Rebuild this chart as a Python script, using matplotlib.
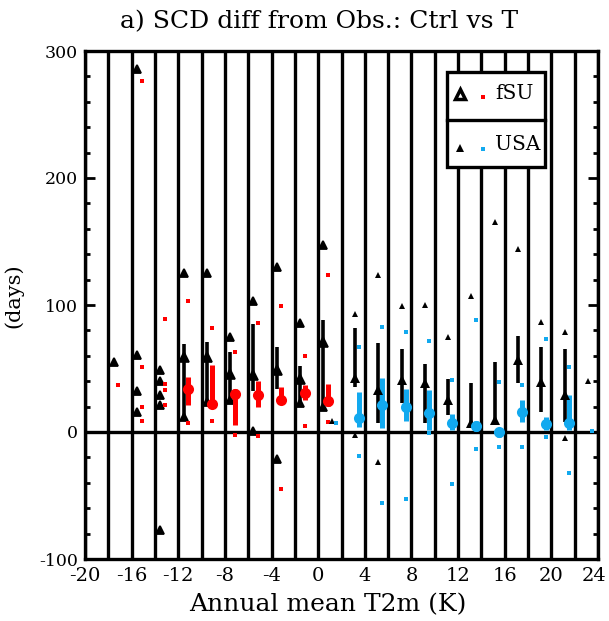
import matplotlib
matplotlib.use("Agg")
import matplotlib.pyplot as plt
import matplotlib.transforms as mtransforms
from matplotlib.patches import Rectangle

plt.rcParams['font.family'] = ['DejaVu Serif']
plt.rcParams['axes.unicode_minus'] = False

# ---------------- data ----------------
# fSU: bins (left edge of 2-K temperature bin)
fsu_pts_bins = [-18, -16, -14, -12, -10, -8, -6, -4, -2, 0]
fsu_ctrl_pts = [[55], [286, 61, 32, 16], [49, 40, 29, 21, -77], [125, 12], [125, 24],
                [75, 25], [103, 1], [130, -21], [86, 23], [147, 20]]
fsu_t_pts = [[37], [276, 51, 20, 9], [89, 38, 33, 21], [103, 7], [82, 9],
             [63, -2], [86, -3], [99, -45], [60, 5], [124, 8]]

fsu_bar_bins = [-12, -10, -8, -6, -4, -2, 0]
fsu_ctrl_lo = [9.5, 25, 24.5, 32, 33.5, 23.5, 20]
fsu_ctrl_med = [59, 59, 46, 45, 49, 42, 71]
fsu_ctrl_hi = [69, 71, 63, 85, 67, 52, 88]
fsu_t_lo = [21, 20.5, 5.5, 20, 22.5, 25, 20.5]
fsu_t_med = [34, 22, 30, 29, 25, 30.5, 24.5]
fsu_t_hi = [43.5, 53, 34, 40, 35.7, 37, 38]

# USA
usa_pts_bins = [0, 2, 4, 6, 8, 10, 12, 14, 16, 18, 20, 22]
usa_ctrl_pts = [[9], [93, -2], [124, -24], [99], [100], [75], [107], [165], [144],
                [87], [79, -5], [40]]
usa_t_pts = [[7], [67, -19], [83, -56], [79, -53], [72, -1], [41, -41], [88, -13],
             [39, -12], [37, -12], [73, -4], [51, -32], [1]]

usa_bar_bins = [2, 4, 6, 8, 10, 12, 14, 16, 18, 20]
usa_ctrl_lo = [35.7, 6.8, 22.6, 6.8, 13.4, 6.8, 8, 38.3, 15.5, 8]
usa_ctrl_med = [42.3, 33, 41, 38.8, 25, 7.3, 9.4, 56.7, 39.6, 29]
usa_ctrl_hi = [81.6, 70, 65.3, 53.3, 41.7, 38.3, 55, 75.6, 67, 65.3]
usa_t_lo = [4.2, 2.9, 9, 1.6, 1.6, 0.5, -4, 8, 1.6, 1.6]
usa_t_med = [10.8, 21.3, 20, 14.7, 6.8, 4.7, 0, 16, 6, 7.3]
usa_t_hi = [31.7, 42.3, 33.6, 33, 13.9, 9, 3, 25, 12, 29]

x_ticks = [-20, -16, -12, -8, -4, 0, 4, 8, 12, 16, 20, 24]
y_ticks = [-100, 0, 100, 200, 300]

RED = '#ff0000'
BLUE = '#12a9ef'

# ---------------- figure ----------------
fig = plt.figure(figsize=(6.09, 6.21), dpi=100)
ax = fig.add_axes([85 / 609, 1 - 559 / 621, 513 / 609, 508 / 621])
ax.set_xlim(-20, 24)
ax.set_ylim(-100, 300)

# vertical grid lines every 2 K
ax.set_xticks(x_ticks)
ax.set_xticks(range(-18, 24, 2), minor=True)
ax.grid(True, which='both', axis='x', color='black', lw=2.4, zorder=1)
ax.axhline(0, color='black', lw=2.4, zorder=2)

# offsets within the bin
o_fc, o_ft = 0.45, 0.85
o_uc, o_ut = 1.15, 1.5

# individual stations
for b, vals in zip(fsu_pts_bins, fsu_ctrl_pts):
    ax.plot([b + o_fc] * len(vals), vals, ls='none', marker='^', ms=5.2, mfc='black',
            mec='black', mew=1.3, zorder=4)
for b, vals in zip(fsu_pts_bins, fsu_t_pts):
    ax.plot([b + o_ft] * len(vals), vals, ls='none', marker='s', ms=3.2, color=RED,
            mew=0, zorder=4)
for b, vals in zip(usa_pts_bins, usa_ctrl_pts):
    ax.plot([b + o_uc] * len(vals), vals, ls='none', marker='^', ms=5, color='black',
            mew=0, zorder=4)
for b, vals in zip(usa_pts_bins, usa_t_pts):
    ax.plot([b + o_ut] * len(vals), vals, ls='none', marker='s', ms=3.2, color=BLUE,
            mew=0, zorder=4)

# bin statistics bars
for b, lo, md, hi in zip(fsu_bar_bins, fsu_ctrl_lo, fsu_ctrl_med, fsu_ctrl_hi):
    ax.plot([b + o_fc, b + o_fc], [lo, hi], color='black', lw=2.6, solid_capstyle='butt', zorder=5)
    ax.plot([b + o_fc], [md], marker='^', ms=6.5, color='black', mew=1.2, zorder=6)
for b, lo, md, hi in zip(fsu_bar_bins, fsu_t_lo, fsu_t_med, fsu_t_hi):
    ax.plot([b + o_ft, b + o_ft], [lo, hi], color=RED, lw=3.6, solid_capstyle='butt', zorder=5)
    ax.plot([b + o_ft], [md], marker='o', ms=8, color=RED, mew=0, zorder=6)
for b, lo, md, hi in zip(usa_bar_bins, usa_ctrl_lo, usa_ctrl_med, usa_ctrl_hi):
    ax.plot([b + o_uc, b + o_uc], [lo, hi], color='black', lw=2.6, solid_capstyle='butt', zorder=5)
    ax.plot([b + o_uc], [md], marker='^', ms=7, color='black', mew=0, zorder=6)
for b, lo, md, hi in zip(usa_bar_bins, usa_t_lo, usa_t_med, usa_t_hi):
    ax.plot([b + o_ut, b + o_ut], [lo, hi], color=BLUE, lw=3.6, solid_capstyle='butt', zorder=5)
    ax.plot([b + o_ut], [md], marker='o', ms=8, color=BLUE, mew=0, zorder=6)

# axes styling
for s in ax.spines.values():
    s.set_linewidth(2.4)
    s.set_zorder(7)
ax.set_yticks(y_ticks)
ax.set_yticks(range(-80, 300, 20), minor=True)
ax.tick_params(axis='y', which='major', direction='in', length=7, width=2, left=True, right=True,
               labelsize=12.5, pad=5)
ax.tick_params(axis='y', which='minor', direction='in', length=3.5, width=2, left=True, right=True)
ax.tick_params(axis='x', which='both', length=0, labelsize=14, pad=6)
ax.set_xticklabels([str(v) for v in x_ticks])
ax.set_yticklabels([str(v) for v in y_ticks])
# nudge the last x label so it stays inside the figure
last = ax.get_xticklabels()[-1]
last.set_transform(last.get_transform() +
                   mtransforms.ScaledTranslation(-4 / 100, 0, fig.dpi_scale_trans))

ax.set_xlabel('Annual mean T2m (K)', fontsize=18)
ax.xaxis.set_label_coords(0.474, -0.068)
ax.set_ylabel('(days)', fontsize=15)
ax.yaxis.set_label_coords(-0.12, 0.518)
fig.text(319 / 609, 1 - 22 / 621, 'a) SCD diff from Obs.: Ctrl vs T', ha='center', va='center',
         fontsize=18)

# legend box (drawn manually)
tr = ax.transAxes
ax.add_patch(Rectangle((0.706, 0.772), 0.191, 0.187, transform=tr, facecolor='white',
                       edgecolor='black', lw=2.4, zorder=8))
ax.plot([0.706, 0.897], [0.864, 0.864], transform=tr, color='black', lw=2.4, zorder=9)
ax.plot([0.731], [0.915], transform=tr, marker='^', ms=7, mfc='white', mec='black', mew=2.5, zorder=9)
ax.plot([0.776], [0.909], transform=tr, marker='s', ms=3.2, color=RED, mew=0, zorder=9)
ax.text(0.799, 0.917, 'fSU', transform=tr, fontsize=14.5, va='center', ha='left', zorder=9)
ax.plot([0.731], [0.810], transform=tr, marker='^', ms=6, color='black', mew=0, zorder=9)
ax.plot([0.776], [0.808], transform=tr, marker='s', ms=3.2, color=BLUE, mew=0, zorder=9)
ax.text(0.799, 0.815, 'USA', transform=tr, fontsize=14.5, va='center', ha='left', zorder=9)

fig.savefig('out.png', dpi=100)
